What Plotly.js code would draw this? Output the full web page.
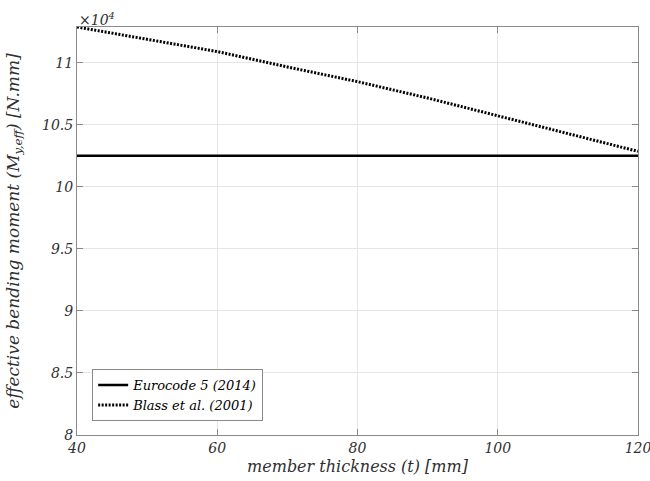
<!DOCTYPE html>
<html>
<head>
<meta charset="utf-8">
<script src="https://cdn.plot.ly/plotly-3.0.1.min.js"></script>
<style>html,body{margin:0;padding:0;background:#fff;}#chart{width:650px;height:481px;}</style>
</head>
<body>
<div id="chart"></div>
<script>
// member thickness t [mm]
var thickness = [40, 50, 60, 70, 80, 90, 100, 110, 120];
// Blass et al. (2001) effective bending moment [N.mm]
var blassMoment = [112870, 111850, 110890, 109650, 108470, 107150, 105730, 104330, 102850];
// Eurocode 5 (2014) effective bending moment [N.mm]
var ecThickness = [40, 120];
var ecMoment = [102500, 102500];
var yTickVals = [80000, 85000, 90000, 95000, 100000, 105000, 110000];
var yTickText = ['8', '8.5', '9', '9.5', '10', '10.5', '11'];
var xTickVals = [40, 60, 80, 100, 120];

var fontFam = 'DejaVu Serif';
var axisCol = '#303030';

var traces = [
  {x: ecThickness, y: ecMoment, mode: 'lines', name: 'Eurocode 5 (2014)',
   line: {color: '#000', width: 2.5}},
  {x: thickness, y: blassMoment, mode: 'lines', name: 'Blass et al. (2001)',
   line: {color: '#000', width: 3, dash: '2px,1.5px'}}
];

var layout = {
  width: 650, height: 481,
  margin: {l: 77, r: 12, t: 27, b: 46},
  paper_bgcolor: '#fff', plot_bgcolor: '#fff',
  font: {family: fontFam, color: axisCol},
  showlegend: true,
  legend: {x: 0.027, y: 0.034, xanchor: 'left', yanchor: 'bottom',
    bgcolor: '#fff', bordercolor: '#8a8a8a', borderwidth: 1,
    font: {family: fontFam, size: 13, color: '#000', style: 'italic'},
    tracegroupgap: 0, itemwidth: 30},
  xaxis: {range: [40, 120], tickvals: xTickVals, ticktext: xTickVals.map(String),
    ticklabeloverflow: 'allow',
    showgrid: true, gridcolor: '#e6e6e6', gridwidth: 1,
    showline: true, linecolor: '#8a8a8a', linewidth: 1, mirror: 'ticks',
    ticks: 'inside', ticklen: 6, tickcolor: '#8a8a8a',
    zeroline: false, tickfont: {family: fontFam, size: 14, color: axisCol, style: 'italic'},
    title: {text: 'member thickness (t) [mm]', font: {family: fontFam, size: 16, color: axisCol, style: 'italic'}, standoff: 6}},
  yaxis: {range: [80000, 112870], tickvals: yTickVals, ticktext: yTickText,
    showgrid: true, gridcolor: '#e6e6e6', gridwidth: 1,
    showline: true, linecolor: '#8a8a8a', linewidth: 1, mirror: 'ticks',
    ticks: 'inside', ticklen: 6, tickcolor: '#8a8a8a',
    zeroline: false, tickfont: {family: fontFam, size: 14, color: axisCol, style: 'italic'},
    title: {text: 'effective bending moment (M<sub>y,eff</sub>) [N.mm]', font: {family: fontFam, size: 17, color: axisCol, style: 'italic'}, standoff: 18}},
  annotations: [
    {xref: 'paper', yref: 'paper', x: 0, y: 1, xanchor: 'left', yanchor: 'bottom', yshift: -3,
     text: '×10<sup>4</sup>', showarrow: false, font: {family: fontFam, size: 14, color: axisCol, style: 'italic'}}
  ]
};

Plotly.newPlot('chart', traces, layout, {displayModeBar: false, staticPlot: true});
</script>
</body>
</html>
